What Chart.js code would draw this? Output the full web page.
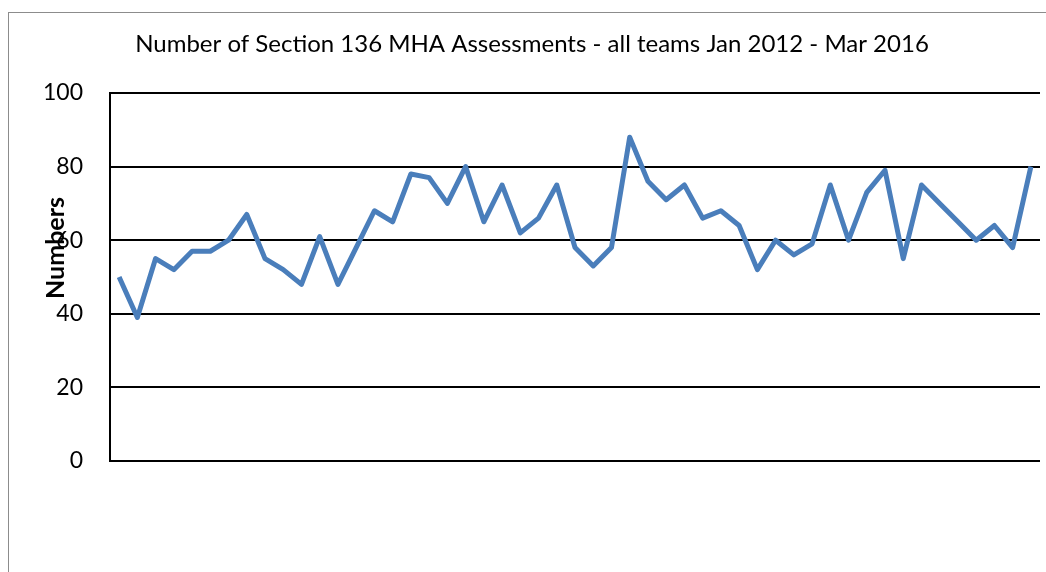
<!DOCTYPE html>
<html>
<head>
<meta charset="utf-8">
<script src="https://cdn.jsdelivr.net/npm/chart.js@4"></script>
<style>
  html, body { margin: 0; padding: 0; background: #fff; overflow: hidden; }
  #wrap { position: relative; width: 1046px; height: 572px; }
  #frame { position: absolute; left: 8px; top: 12px; width: 1100px; height: 620px; border: 1px solid #8c8c8c; }
  canvas { position: absolute; left: 0; top: 0; }
</style>
</head>
<body>
<div id="wrap">
  <div id="frame"></div>
  <canvas id="chart" width="1046" height="572"></canvas>
</div>
<script>
// Monthly values, Jan 2012 - Mar 2016
var months = ['Jan 2012','Feb 2012','Mar 2012','Apr 2012','May 2012','Jun 2012','Jul 2012','Aug 2012','Sep 2012','Oct 2012','Nov 2012','Dec 2012',
              'Jan 2013','Feb 2013','Mar 2013','Apr 2013','May 2013','Jun 2013','Jul 2013','Aug 2013','Sep 2013','Oct 2013','Nov 2013','Dec 2013',
              'Jan 2014','Feb 2014','Mar 2014','Apr 2014','May 2014','Jun 2014','Jul 2014','Aug 2014','Sep 2014','Oct 2014','Nov 2014','Dec 2014',
              'Jan 2015','Feb 2015','Mar 2015','Apr 2015','May 2015','Jun 2015','Jul 2015','Aug 2015','Sep 2015','Oct 2015','Nov 2015','Dec 2015',
              'Jan 2016','Feb 2016','Mar 2016'];
var assessments = [50, 39, 55, 52, 57, 57, 60, 67, 55, 52, 48, 61,
                   48, 58, 68, 65, 78, 77, 70, 80, 65, 75, 62, 66,
                   75, 58, 53, 58, 88, 76, 71, 75, 66, 68, 64, 52,
                   60, 56, 59, 75, 60, 73, 79, 55, 75, 70, 65, 60,
                   64, 58, 80];
var yTicks = [0, 20, 40, 60, 80, 100];

var chartTitle = 'Number of Section 136 MHA Assessments - all teams Jan 2012 - Mar 2016';
var yTitle = 'Numbers';

// Y axis title drawn by hand (sits above the middle in the original)
var yTitlePlugin = {
    id: 'yTitle',
    afterDraw: function(chart) {
        var ctx = chart.ctx;
        ctx.save();
        ctx.translate(56, 248);
        ctx.rotate(-Math.PI / 2);
        ctx.font = 'bold 25px Lato';
        ctx.fillStyle = '#000';
        ctx.textAlign = 'center';
        ctx.textBaseline = 'middle';
        ctx.fillText(yTitle, 0, 0);
        ctx.restore();
    }
};

var ctx = document.getElementById('chart').getContext('2d');
new Chart(ctx, {
    type: 'line',
    data: {
        labels: months,
        datasets: [{
            label: 'Assessments',
            data: assessments,
            borderColor: '#4a7ebb',
            borderWidth: 5,
            borderJoinStyle: 'round',
            pointRadius: 0,
            fill: false,
            tension: 0
        }]
    },
    options: {
        responsive: false,
        animation: false,
        layout: {
            padding: { top: 12, left: 24, right: 6, bottom: 111 }
        },
        plugins: {
            legend: { display: false },
            tooltip: { enabled: false },
            title: {
                display: true,
                text: chartTitle,
                color: '#000',
                font: { family: 'Lato', size: 24, weight: 'normal' },
                padding: { top: 17.6, bottom: 34.6 }
            }
        },
        scales: {
            x: {
                display: false,
                offset: true
            },
            y: {
                min: 0,
                max: 100,
                afterFit: function(scale) { scale.width = 86; },
                afterBuildTicks: function(scale) {
                    scale.ticks = yTicks.map(function(v) { return { value: v }; });
                },
                grid: { color: '#000', lineWidth: 2, drawTicks: false },
                border: { color: '#000', width: 2 },
                ticks: {
                    color: '#000',
                    padding: 27,
                    font: { family: 'Lato', size: 23 }
                }
            }
        }
    },
    plugins: [yTitlePlugin]
});
</script>
</body>
</html>
